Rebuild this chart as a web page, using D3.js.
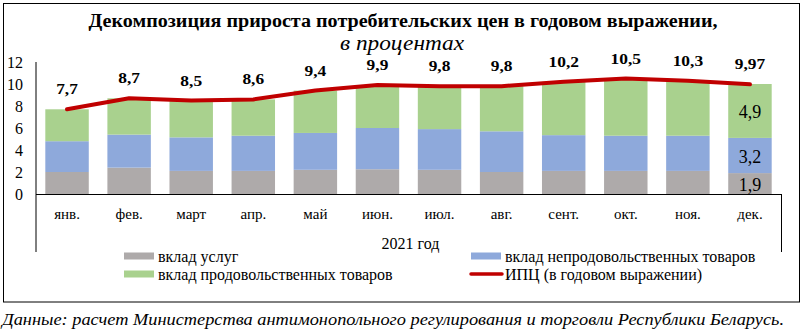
<!DOCTYPE html>
<html><head><meta charset="utf-8">
<script src="https://cdn.jsdelivr.net/npm/d3@7"></script>
<style>
html,body{margin:0;padding:0;background:#fff;}
</style></head>
<body><svg id="c" width="806" height="334" font-family="Liberation Serif"></svg>
<script>
const months = ["янв.","фев.","март","апр.","май","июн.","июл.","авг.","сент.","окт.","ноя.","дек."];
const services = [2.0,2.4,2.1,2.1,2.2,2.25,2.2,2.0,2.1,2.1,2.1,1.9];
const nonFood  = [2.8,3.0,3.05,3.2,3.35,3.75,3.7,3.7,3.25,3.2,3.2,3.2];
const food     = [2.9,3.3,3.35,3.3,3.85,3.9,3.9,4.1,4.85,5.1,4.95,4.9];
const cpi      = [7.7,8.7,8.5,8.6,9.4,9.9,9.8,9.8,10.2,10.5,10.3,9.97];
const cpiLabels = ["7,7","8,7","8,5","8,6","9,4","9,9","9,8","9,8","10,2","10,5","10,3","9,97"];
const segLabelMonth = "дек.";
const segLabels = ["1,9","3,2","4,9"];
const yTicks = [0,2,4,6,8,10,12];
const seriesNames = ["вклад услуг","вклад непродовольственных товаров","вклад продовольственных товаров","ИПЦ (в годовом выражении)"];
const colors = ["#AEAAAA","#8EA9DB","#A9D18E","#C00000"];
const title = "Декомпозиция прироста потребительских цен в годовом выражении,";
const subtitle = "в процентах";
const axisTitle = "2021 год";
const footer = "Данные: расчет Министерства антимонопольного регулирования и торговли Республики Беларусь.";

const FF = "Liberation Serif";
const svg = d3.select("#c");
const left = 36, right = 781, y0 = 194, yTop = 62, axisBottomY = 252;

svg.append("rect").attr("x",3.5).attr("y",3.5).attr("width",796).attr("height",298.5)
  .attr("fill","none").attr("stroke","#000").attr("stroke-width",1);

svg.append("text").attr("x",403).attr("y",27).attr("text-anchor","middle").attr("font-family",FF)
  .attr("font-weight","bold").attr("font-size",18)
  .attr("textLength",629).attr("lengthAdjust","spacingAndGlyphs").text(title);
svg.append("text").attr("x",402).attr("y",50).attr("text-anchor","middle").attr("font-family",FF)
  .attr("font-style","italic").attr("font-size",20)
  .attr("textLength",124).attr("lengthAdjust","spacingAndGlyphs").text(subtitle);

const x = d3.scaleBand().domain(months).range([left,right]).paddingInner(0.3).paddingOuter(0.15);
const y = d3.scaleLinear().domain([0,12]).range([y0,yTop]);

const rows = months.map((m,i)=>({m, s:services[i], n:nonFood[i], f:food[i]}));
const stack = d3.stack().keys(["s","n","f"])(rows);

svg.append("g").selectAll("g").data(stack).join("g")
  .attr("fill",(d,i)=>colors[i])
  .selectAll("rect").data(d=>d).join("rect")
  .attr("x",d=>x(d.data.m)).attr("width",x.bandwidth())
  .attr("y",d=>y(d[1])).attr("height",d=>y(d[0])-y(d[1]));

const lastIdx = months.indexOf(segLabelMonth);
stack.forEach((layer,i)=>{
  const d = layer[lastIdx];
  svg.append("text").attr("x",x(segLabelMonth)+x.bandwidth()/2).attr("font-family",FF)
    .attr("y",(y(d[0])+y(d[1]))/2+1).attr("dy","0.35em")
    .attr("text-anchor","middle").attr("font-size",18).text(segLabels[i]);
});

const yAxis = d3.axisLeft(y).tickValues(yTicks).tickSize(0).tickPadding(13).tickFormat(d3.format("d"));
const gy = svg.append("g").attr("transform",`translate(${left},0)`).call(yAxis);
gy.attr("font-family",FF);
gy.select(".domain").remove();
gy.selectAll("text").attr("font-size",16).attr("font-family",FF).attr("fill","#000");

const xAxis = d3.axisBottom(x).tickSize(0).tickPadding(14);
const gx = svg.append("g").attr("transform",`translate(0,${y0})`).call(xAxis);
gx.attr("font-family",FF);
gx.select(".domain").remove();
gx.selectAll("text").attr("font-size",15).attr("font-family",FF).attr("fill","#000");

svg.append("line").attr("x1",left).attr("x2",left).attr("y1",yTop).attr("y2",axisBottomY).attr("stroke","#000");
svg.append("line").attr("x1",left).attr("x2",right).attr("y1",y0+0.5).attr("y2",y0+0.5).attr("stroke","#000");
svg.append("line").attr("x1",right+0.5).attr("x2",right+0.5).attr("y1",y0).attr("y2",axisBottomY).attr("stroke","#000");

svg.append("text").attr("x",(left+right)/2+2).attr("y",249).attr("text-anchor","middle").attr("font-family",FF)
  .attr("font-size",16).text(axisTitle);

const line = d3.line().x((d,i)=>x(months[i])+x.bandwidth()/2).y(d=>y(d));
svg.append("path").datum(cpi).attr("d",line).attr("fill","none")
  .attr("stroke",colors[3]).attr("stroke-width",4).attr("stroke-linejoin","round").attr("stroke-linecap","round");

svg.append("g").selectAll("text").data(cpi).join("text").attr("font-family",FF)
  .attr("transform",(d,i)=>`translate(${x(months[i])+x.bandwidth()/2},${y(d)-20}) scale(1.2,1)`)
  .attr("dy","0.35em")
  .attr("text-anchor","middle").attr("font-weight","bold").attr("font-size",14.5)
  .text((d,i)=>cpiLabels[i]);

const legendPos = [[124,256],[471,256],[124,274],[471,274]];
[0,1,2,3].forEach((k,j)=>{
  const [lx,ly] = legendPos[j];
  if(k<3){
    svg.append("rect").attr("x",lx).attr("y",ly-3.5).attr("width",30).attr("height",7).attr("fill",colors[k]);
  } else {
    svg.append("line").attr("x1",lx).attr("x2",lx+31).attr("y1",ly).attr("y2",ly)
      .attr("stroke",colors[k]).attr("stroke-width",3.5).attr("stroke-linecap","round");
  }
  svg.append("text").attr("x",lx+34).attr("y",ly).attr("dy","0.35em").attr("font-family",FF)
    .attr("font-size",16).text(seriesNames[k]);
});

svg.append("text").attr("x",2).attr("y",325).attr("font-style","italic").attr("font-size",17.5).attr("font-family",FF)
  .attr("textLength",782).attr("lengthAdjust","spacingAndGlyphs").text(footer);
</script></body></html>
